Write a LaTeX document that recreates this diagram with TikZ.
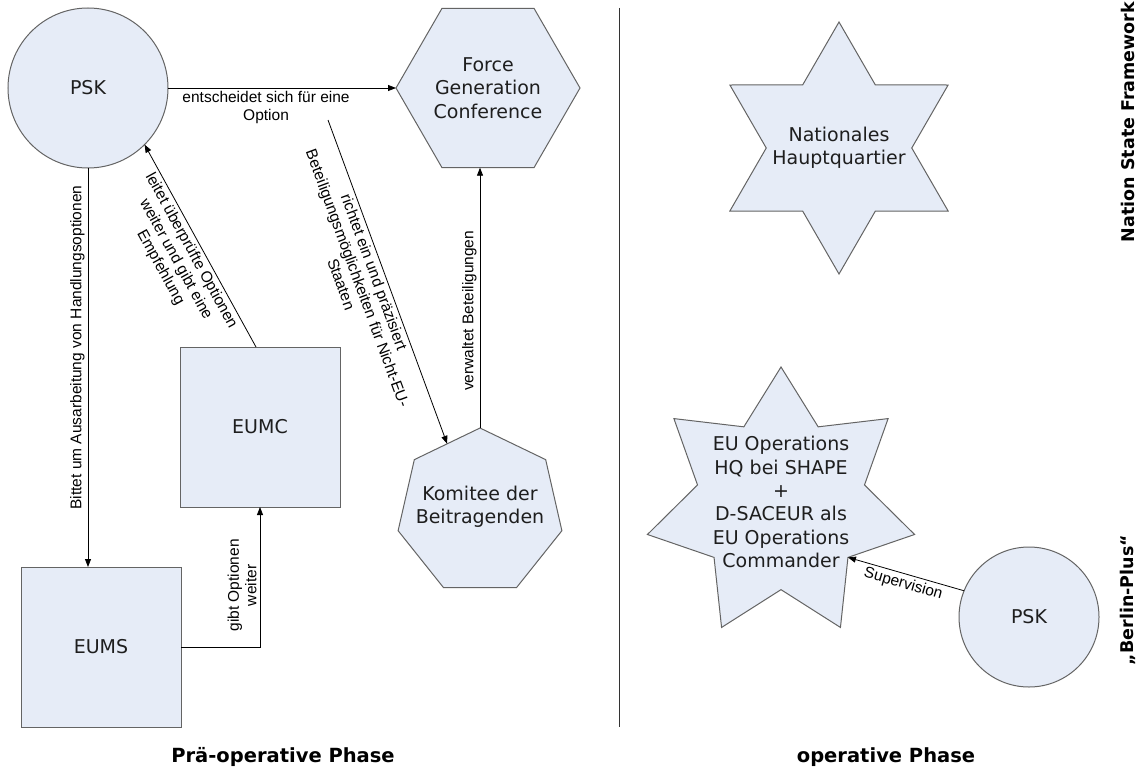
\documentclass[tikz,border=0pt]{standalone}
\usepackage{fontspec}
\setmainfont{DejaVu Sans}
\newfontfamily\labfont{Liberation Sans}
\usetikzlibrary{shapes.geometric,arrows.meta,calc}
\definecolor{nodefill}{RGB}{230,236,247}
\definecolor{nodeline}{RGB}{100,100,100}
\definecolor{txt}{RGB}{30,30,30}
\tikzset{
  nodefont/.style={font=\fontsize{19}{23.3}\selectfont, text=txt, align=center},
  base/.style={draw=nodeline, fill=nodefill, line width=1pt, inner sep=0pt, outer sep=0pt, nodefont},
  circ/.style={base, circle},
  sq/.style={base, rectangle, minimum width=160pt, minimum height=160pt},
  poly/.style={base, regular polygon, regular polygon sides=#1},
  stars/.style={base, star, star points=#1},
  lab/.style={font=\labfont\fontsize{15.5}{17.5}\selectfont, align=center, text=black, inner sep=3pt},
  ar/.style={draw=black, line width=0.8pt, -{Triangle[length=8pt,width=6pt]}},
  phase/.style={font=\bfseries\fontsize{19.5}{23}\selectfont, text=black},
  sidephase/.style={font=\bfseries\fontsize{17.5}{21}\selectfont, text=black, rotate=90},
  divider/.style={draw=black!80, line width=0.8pt}
}
\begin{document}
\begin{tikzpicture}[x=1pt,y=-1pt]
\useasboundingbox (0,0) rectangle (1145,776);
\fill[white] (0,0) rectangle (1145,776);

% nodes
\node[circ, minimum size=160pt] (psk) at (88,88) {PSK};
\node[poly=6, minimum size=184pt, label={[nodefont]center:Force\\Generation\\Conference}] (fgc) at (488,88) {};
\node[sq] (eumc) at (260,427) {EUMC};
\node[sq] (eums) at (101,647) {EUMS};
\node[poly=7, minimum size=168pt, label={[nodefont, yshift=5pt]center:Komitee der\\Beitragenden}] (kom) at (480,512) {};
\node[stars=6, star point ratio=1.732, minimum size=252pt, label={[nodefont]center:Nationales\\Hauptquartier}] (nhq) at (839,148) {};
\node[stars=7, star point ratio=1.6, minimum size=274pt, label={[nodefont, yshift=2pt]center:EU Operations\\HQ bei SHAPE\\+\\D-SACEUR als\\EU Operations\\Commander}] (euhq) at (781,504) {};
\node[circ, minimum size=140pt] (psk2) at (1029,617) {PSK};

\coordinate (opt) at (328,120);

% connectors
\draw[ar] (psk.east) -- (psk.east -| fgc.west)
  node[lab, pos=0.43, below] {entscheidet sich für eine\\Option};
\draw[ar] (psk.south) -- (psk.south |- eums.north)
  node[lab, pos=0.45, rotate=90, anchor=south] {Bittet um Ausarbeitung von Handlungsoptionen};
\draw[ar] (eums.east) -| (eumc.south)
  node[lab, pos=0.72, rotate=90, anchor=south] {gibt Optionen\\weiter};
\draw[ar] ([xshift=-4pt]eumc.north) -- (psk.-45)
  node[lab, midway, sloped, below] {leitet überprüfte Optionen\\weiter und gibt eine\\Empfehlung};
\draw[ar] (opt) -- ($(kom.corner 1)!0.5!(kom.corner 2)$)
  node[lab, pos=0.46, sloped, below] {richtet ein und präzisiert\\Beteiligungsmöglichkeiten für Nicht-EU-\\Staaten};
\draw[ar] (kom.corner 1) -- (kom.corner 1 |- fgc.south)
  node[lab, pos=0.45, rotate=90, anchor=south] {verwaltet Beteiligungen};
\draw[ar] (psk2.158) -- (euhq.inner point 5)
  node[lab, midway, sloped, below] {Supervision};

% divider
\coordinate (dtop) at (619,8);
\coordinate (dbot) at (619,727);
\draw[divider] (dtop) -- (dbot);

% phase labels
\node[phase] (pre) at (283,757) {Prä-operative Phase};
\node[phase] (op) at (886,757) {operative Phase};
\node[sidephase] (nsf) at (1128,122) {Nation State Framework};
\node[sidephase] (bp) at (1128,600) {„Berlin-Plus“};
\end{tikzpicture}
\end{document}
